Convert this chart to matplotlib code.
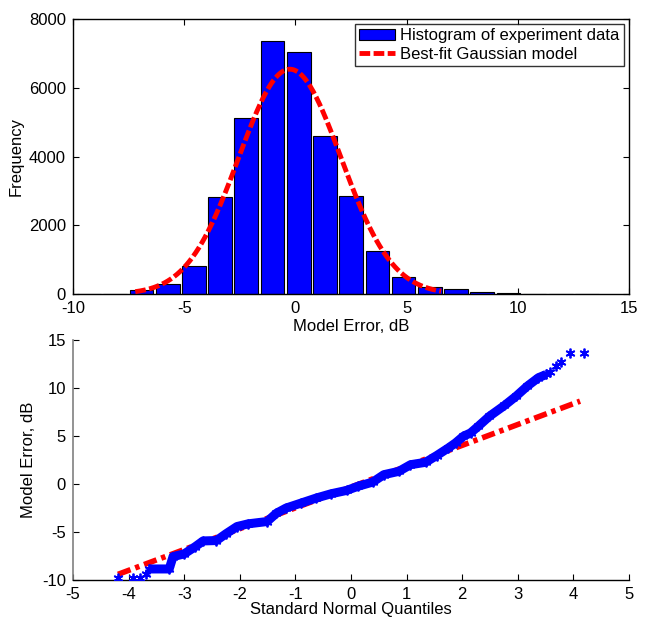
import matplotlib
matplotlib.use("Agg")
import matplotlib.pyplot as plt
import numpy as np

plt.rcParams['font.family'] = ['Liberation Sans', 'DejaVu Sans']
plt.rcParams['font.size'] = 12
plt.rcParams['axes.unicode_minus'] = False

# ---- Histogram data (bin centers and counts) ----
bin_centers = [-9.28, -8.10, -6.92, -5.74, -4.56, -3.39, -2.21, -1.03, 0.15, 1.33,
               2.51, 3.69, 4.86, 6.04, 7.22, 8.40, 9.58, 10.76, 11.94, 13.11]
bin_counts = [3, 6, 106, 280, 822, 2825, 5117, 7352, 7033, 4595,
              2853, 1258, 484, 203, 155, 68, 29, 8, 4, 2]
bin_width = 1.178

# ---- Best-fit Gaussian model parameters ----
gauss_mu = -0.25
gauss_sigma = 2.3
gauss_peak = 6540
gauss_xrange = [-7.2, 6.55]

# ---- QQ plot data (standard normal quantile, sorted model error) ----
qq_x = [-4.19, -3.92, -3.79, -3.69, -3.64, -3.27, -3.20, -3.00, -2.80, -2.66, -2.42,
        -2.25, -2.05, -1.85, -1.51, -1.34, -1.17, -0.90, -0.63, -0.36, -0.08,
        0.12, 0.39, 0.59, 0.86, 1.07, 1.34, 1.54, 1.75, 1.88, 2.02, 2.15, 2.29,
        2.49, 2.76, 2.97, 3.17, 3.37, 3.51, 3.58, 3.68, 3.78, 3.93, 4.19]
qq_y = [-9.83, -9.83, -9.83, -9.41, -8.85, -8.85, -7.56, -7.28, -6.52, -5.93, -5.89,
        -5.19, -4.43, -4.15, -3.91, -3.04, -2.51, -1.99, -1.47, -1.02, -0.67,
        -0.25, 0.20, 0.97, 1.32, 2.01, 2.26, 2.96, 3.75, 4.28, 4.97, 5.32, 6.02,
        7.06, 8.18, 9.15, 10.19, 11.07, 11.41, 11.66, 12.28, 12.70, 13.68, 13.68]
# reference line endpoints
ref_x = [-4.19, 4.12]
ref_y = [-9.41, 8.63]

fig = plt.figure(figsize=(6.5, 6.19), dpi=100)

# ---------------- Top: histogram ----------------
ax1 = fig.add_axes([0.1123, 0.525, 0.8554, 0.4443])
bars = ax1.bar(bin_centers, bin_counts, width=bin_width * 0.9, color='#0000FF',
               edgecolor='black', linewidth=0.8, label='Histogram of experiment data', zorder=2)
gx = np.linspace(gauss_xrange[0], gauss_xrange[1], 300)
gy = gauss_peak * np.exp(-0.5 * ((gx - gauss_mu) / gauss_sigma) ** 2)
line, = ax1.plot(gx, gy, color='#FF0000', linewidth=3.5, dashes=(2.2, 0.7),
                 label='Best-fit Gaussian model', zorder=3)
ax1.set_xlim(-10, 15)
ax1.set_ylim(0, 8000)
ax1.set_xticks([-10, -5, 0, 5, 10, 15])
ax1.set_yticks([0, 2000, 4000, 6000, 8000])
ax1.tick_params(direction='in', length=4, top=True, right=True, width=0.8, pad=5)
ax1.set_xlabel('Model Error, dB', labelpad=2)
ax1.set_ylabel('Frequency', labelpad=4)
for s in ax1.spines.values():
    s.set_linewidth(1.0)
leg = ax1.legend([bars, line], ['Histogram of experiment data', 'Best-fit Gaussian model'],
                 loc='upper right', frameon=True, fancybox=False, edgecolor='black',
                 borderpad=0.25, handlelength=2.2, handletextpad=0.3, labelspacing=0.2,
                 borderaxespad=0.3, fontsize=12)
leg.get_frame().set_linewidth(1.0)

# ---------------- Bottom: QQ plot ----------------
ax2 = fig.add_axes([0.1123, 0.063, 0.8554, 0.3877])
ax2.plot(ref_x, ref_y, color='#FF0000', linewidth=4, dashes=(2.4, 0.9, 0.8, 0.9), zorder=2)
# dense central band
ax2.plot(qq_x[4:39], qq_y[4:39], color='#0000FF', linewidth=6.5, solid_capstyle='butt',
         solid_joinstyle='round', zorder=3)
ax2.plot(qq_x, qq_y, linestyle='none', marker=(6, 2, 0), markersize=7, markeredgewidth=1.3,
         color='#0000FF', zorder=4)
ax2.set_xlim(-5, 5)
ax2.set_ylim(-10, 15)
ax2.set_xticks([-5, -4, -3, -2, -1, 0, 1, 2, 3, 4, 5])
ax2.set_yticks([-10, -5, 0, 5, 10, 15])
ax2.tick_params(direction='in', length=4, width=0.8, pad=5)
ax2.spines['top'].set_visible(False)
ax2.spines['right'].set_visible(False)
ax2.spines['left'].set_color('#808080')
ax2.spines['left'].set_linewidth(1.2)
ax2.spines['bottom'].set_linewidth(1.0)
ax2.set_xlabel('Standard Normal Quantiles', labelpad=0)
ax2.set_ylabel('Model Error, dB', labelpad=4)

fig.savefig('out.png', dpi=100)
